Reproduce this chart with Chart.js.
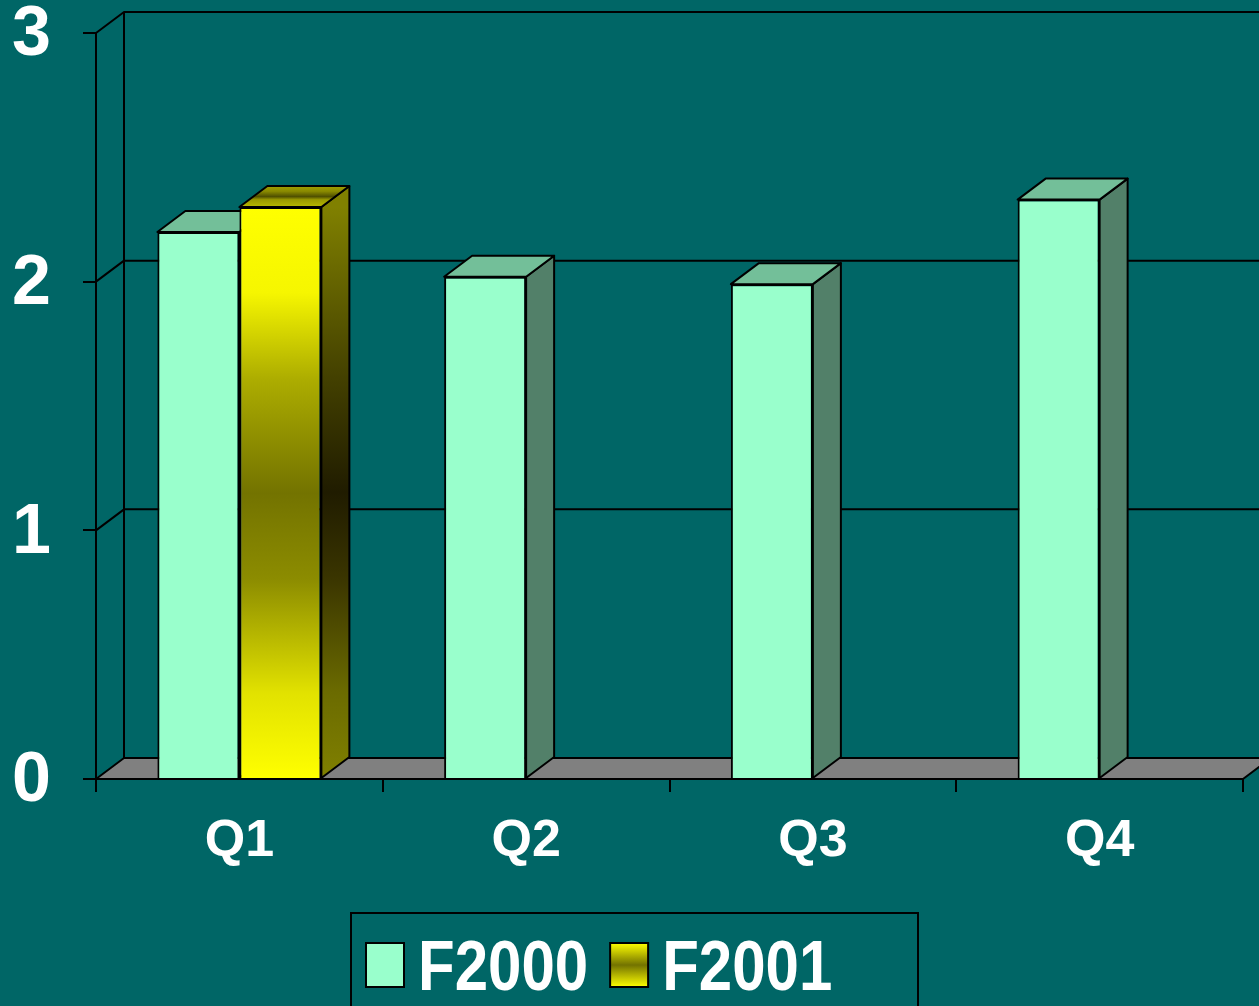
<!DOCTYPE html>
<html>
<head>
<meta charset="utf-8">
<script src="https://cdn.jsdelivr.net/npm/chart.js@4.4.1/dist/chart.umd.min.js"></script>
<style>
  html, body { margin: 0; padding: 0; background: #006666; }
  #wrap { width: 1259px; height: 1006px; }
</style>
</head>
<body>
<div id="wrap"><canvas id="myChart"></canvas></div>
<script>
const trimestres = ['Q1', 'Q2', 'Q3', 'Q4'];
const f2000 = [2.2, 2.02, 1.99, 2.33];
const f2001 = [2.3, null, null, null];
const yMin = 0;
const yMax = 3;
const yPaso = 1;

const FONT = '"Liberation Sans", Arial, sans-serif';
const DX = 28, DY = -21; // profundidad del efecto 3D

// colores de cada serie: frente, arriba, costado
const verde = { front: '#99ffcc', top: '#73bf99', side: '#528069' };

function gradFrente(ctx, y0, y1) {
  const g = ctx.createLinearGradient(0, y0, 0, y1);
  g.addColorStop(0, '#ffff00');
  g.addColorStop(0.15, '#f6f600');
  g.addColorStop(0.3, '#adad00');
  g.addColorStop(0.5, '#737300');
  g.addColorStop(0.65, '#8c8c00');
  g.addColorStop(0.85, '#e2e200');
  g.addColorStop(1, '#ffff00');
  return g;
}
function gradCostado(ctx, y0, y1) {
  const g = ctx.createLinearGradient(0, y0, 0, y1);
  g.addColorStop(0, '#808000');
  g.addColorStop(0.3, '#434000');
  g.addColorStop(0.5, '#201c00');
  g.addColorStop(0.65, '#3a3500');
  g.addColorStop(0.85, '#6b6b00');
  g.addColorStop(1, '#808000');
  return g;
}
function gradArriba(ctx, y0, y1) {
  const g = ctx.createLinearGradient(0, y0, 0, y1);
  g.addColorStop(0, '#b8b800');
  g.addColorStop(0.35, '#9a9a00');
  g.addColorStop(0.5, '#505000');
  g.addColorStop(0.75, '#8a8a00');
  g.addColorStop(1, '#a0a000');
  return g;
}

const caja3d = {
  id: 'caja3d',
  beforeDatasetsDraw(chart) {
    const { ctx, chartArea: { left, right, bottom }, scales: { y } } = chart;
    ctx.save();
    ctx.strokeStyle = '#000';
    ctx.lineWidth = 2;
    ctx.lineJoin = 'round';

    // piso gris
    ctx.beginPath();
    ctx.moveTo(left, bottom);
    ctx.lineTo(right, bottom);
    ctx.lineTo(right + DX, bottom + DY);
    ctx.lineTo(left + DX, bottom + DY);
    ctx.closePath();
    ctx.fillStyle = '#808080';
    ctx.fill();
    ctx.stroke();

    // pared del fondo y lineas de division
    for (let v = yMin + yPaso; v <= yMax; v += yPaso) {
      const yy = y.getPixelForValue(v);
      ctx.beginPath();
      ctx.moveTo(left, yy);
      ctx.lineTo(left + DX, yy + DY);
      ctx.lineTo(chart.width + 5, yy + DY);
      ctx.stroke();
    }
    ctx.beginPath();
    ctx.moveTo(left + DX, y.getPixelForValue(yMax) + DY);
    ctx.lineTo(left + DX, bottom + DY);
    ctx.stroke();

    // caras de arriba y costado de cada barra
    chart.data.datasets.forEach((ds, i) => {
      const meta = chart.getDatasetMeta(i);
      meta.data.forEach((bar, j) => {
        if (ds.data[j] == null) return;
        const { x, y: top, base, width } = bar.getProps(['x', 'y', 'base', 'width'], true);
        const x1 = x - width / 2, x2 = x + width / 2;
        ctx.beginPath();
        ctx.moveTo(x2, top);
        ctx.lineTo(x2 + DX, top + DY);
        ctx.lineTo(x2 + DX, base + DY);
        ctx.lineTo(x2, base);
        ctx.closePath();
        ctx.fillStyle = ds.costado === 'grad' ? gradCostado(ctx, top, base) : ds.costado;
        ctx.fill();
        ctx.stroke();
        ctx.beginPath();
        ctx.moveTo(x1, top);
        ctx.lineTo(x2, top);
        ctx.lineTo(x2 + DX, top + DY);
        ctx.lineTo(x1 + DX, top + DY);
        ctx.closePath();
        ctx.fillStyle = ds.arriba === 'grad' ? gradArriba(ctx, top, top + DY) : ds.arriba;
        ctx.fill();
        ctx.stroke();
      });
    });
    ctx.restore();
  }
};

const leyenda = {
  id: 'leyenda',
  afterDraw(chart) {
    const { ctx } = chart;
    const boxL = 351, boxR = 918, boxT = 913;
    ctx.save();
    ctx.strokeStyle = '#000';
    ctx.lineWidth = 2;
    ctx.strokeRect(boxL, boxT, boxR - boxL, chart.height - boxT + 10);
    ctx.font = 'bold 60px ' + FONT;
    ctx.fillStyle = '#fff';
    ctx.textBaseline = 'alphabetic';
    let x = boxL + 15;
    const sy = 943, sw = 38, sh = 44;
    chart.data.datasets.forEach(ds => {
      let fill = ds.backgroundColor;
      if (typeof fill === 'function') {
        const g = ctx.createLinearGradient(0, sy, 0, sy + sh);
        g.addColorStop(0, '#ffff00');
        g.addColorStop(0.2, '#c8c800');
        g.addColorStop(0.5, '#737300');
        g.addColorStop(0.8, '#c8c800');
        g.addColorStop(1, '#ffff00');
        fill = g;
      }
      ctx.fillStyle = fill;
      ctx.fillRect(x, sy, sw, sh);
      ctx.strokeRect(x, sy, sw, sh);
      ctx.fillStyle = '#fff';
      ctx.save();
      ctx.translate(x + 52, 990);
      ctx.scale(1, 1.18);
      ctx.fillText(ds.label, 0, 0);
      ctx.restore();
      x += 52 + ctx.measureText(ds.label).width + 22;
    });
    ctx.restore();
  }
};

const ctx = document.getElementById('myChart').getContext('2d');
const myChart = new Chart(ctx, {
  type: 'bar',
  data: {
    labels: trimestres,
    datasets: [{
      label: 'F2000',
      data: f2000,
      backgroundColor: verde.front,
      arriba: verde.top,
      costado: verde.side,
      borderColor: '#000',
      borderWidth: 2
    },
    {
      label: 'F2001',
      data: f2001,
      backgroundColor: (c) => {
        const ch = c.chart;
        if (!ch.chartArea || c.parsed == null || c.parsed.y == null) return '#ffff00';
        const y = ch.scales.y;
        return gradFrente(ch.ctx, y.getPixelForValue(c.parsed.y), y.getPixelForValue(0));
      },
      arriba: 'grad',
      costado: 'grad',
      borderColor: '#000',
      borderWidth: 2
    }]
  },
  options: {
    responsive: true,
    maintainAspectRatio: false,
    animation: false,
    categoryPercentage: 0.572,
    barPercentage: 1,
    layout: { padding: { top: 33, right: 16, left: 0, bottom: 0 } },
    plugins: {
      legend: { display: false },
      tooltip: { enabled: false }
    },
    scales: {
      x: {
        grid: { offset: true, drawOnChartArea: false, color: '#000', lineWidth: 2, tickLength: 13 },
        border: { color: '#000', width: 2 },
        ticks: { color: '#fff', font: { family: FONT, size: 52, weight: 'bold' }, padding: 18 },
        afterFit: (s) => { s.height = 227; s.paddingLeft = 0; s.paddingRight = 0; }
      },
      y: {
        min: yMin,
        max: yMax,
        grid: { drawOnChartArea: false, color: '#000', lineWidth: 2, tickLength: 13 },
        border: { color: '#000', width: 2 },
        ticks: { stepSize: yPaso, color: '#fff', font: { family: FONT, size: 70, weight: 'bold', lineHeight: 0.9 }, padding: 32, labelOffset: 3 },
        afterFit: (s) => { s.width = 96; s.paddingTop = 0; s.paddingBottom = 0; }
      }
    }
  },
  plugins: [caja3d, leyenda]
});
</script>
</body>
</html>
